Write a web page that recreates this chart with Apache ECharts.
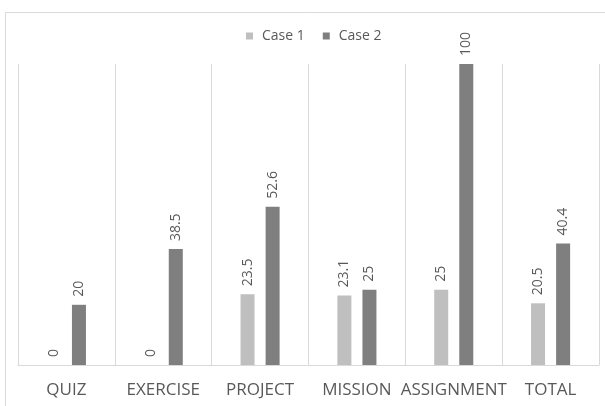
<!DOCTYPE html>
<html>
<head>
<meta charset="utf-8">
<script src="https://cdn.jsdelivr.net/npm/echarts@6/dist/echarts.min.js"></script>
<style>
  html, body { margin: 0; padding: 0; background: #fff; }
  #main { width: 605px; height: 406px; }
</style>
</head>
<body>
<div id="main"></div>
<script>
// 类别和数据
var categories = ['QUIZ', 'EXERCISE', 'PROJECT', 'MISSION', 'ASSIGNMENT', 'TOTAL'];
var case1 = [0, 0, 23.5, 23.1, 25, 20.5];
var case2 = [20, 38.5, 52.6, 25, 100, 40.4];

var chart = echarts.init(document.getElementById('main'));

// 竖排数值标签
var labelOpt = {
    show: true,
    position: 'top',
    distance: 8,
    rotate: 90,
    align: 'left',
    verticalAlign: 'middle',
    color: '#595959',
    fontSize: 14,
    fontFamily: 'Open Sans'
};

var option = {
    animation: false,
    textStyle: { fontFamily: 'Open Sans' },
    //外框
    graphic: [{
        type: 'rect',
        shape: { x: 5.5, y: 12.5, width: 700, height: 500 },
        style: { fill: 'none', stroke: '#D9D9D9', lineWidth: 1 },
        silent: true
    }],
    legend: {
        data: ['Case 1', 'Case 2'],
        top: 24,
        left: 241,
        itemWidth: 7,
        itemHeight: 7,
        itemGap: 18,
        icon: 'rect',
        textStyle: { color: '#595959', fontSize: 14, fontFamily: 'Open Sans', padding: [0, 0, 0, 4] }
    },
    grid: { left: 18, right: 6, top: 64, bottom: 41 },
    xAxis: {
        type: 'category',
        data: categories,
        axisLine: { show: true, lineStyle: { color: '#D9D9D9' } },
        axisTick: { show: false },
        splitLine: { show: true, lineStyle: { color: '#D9D9D9' } },
        axisLabel: { color: '#595959', fontSize: 17, margin: 17, interval: 0 }
    },
    yAxis: {
        type: 'value',
        min: 0,
        max: 100,
        show: false
    },
    series: [{
        name: 'Case 1',
        type: 'bar',
        data: case1,
        barWidth: 14,
        barGap: '79%',
        itemStyle: { color: '#BFBFBF' },
        label: labelOpt
    }, {
        name: 'Case 2',
        type: 'bar',
        data: case2,
        barWidth: 14,
        itemStyle: { color: '#7F7F7F' },
        label: labelOpt
    }]
};

chart.setOption(option);
</script>
</body>
</html>
